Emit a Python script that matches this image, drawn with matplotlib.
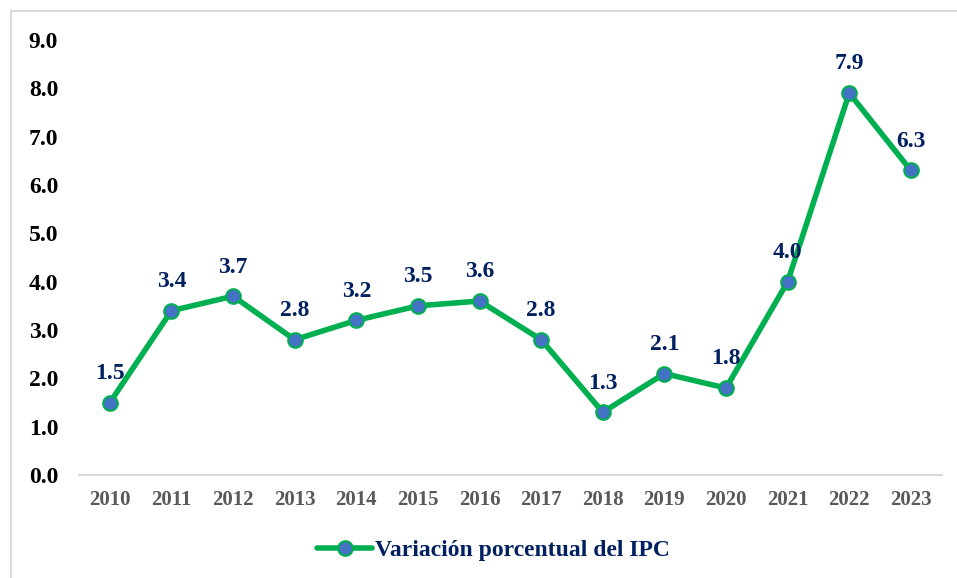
import matplotlib.pyplot as plt
from matplotlib.patches import Rectangle

years = ['2010', '2011', '2012', '2013', '2014', '2015', '2016',
         '2017', '2018', '2019', '2020', '2021', '2022', '2023']
ipc = [1.5, 3.4, 3.7, 2.8, 3.2, 3.5, 3.6, 2.8, 1.3, 2.1, 1.8, 4.0, 7.9, 6.3]
yticks = [0, 1, 2, 3, 4, 5, 6, 7, 8, 9]

plt.rcParams['font.family'] = ['Liberation Serif', 'DejaVu Serif']
plt.rcParams['font.weight'] = 'bold'

green = '#00B050'
blue = '#4472C4'
navy = '#002060'

fig = plt.figure(figsize=(9.57, 5.78), dpi=100)
ax = fig.add_axes([0.0826, 0.178, 0.9014, 0.753])

x = list(range(len(years)))
ax.plot(x, ipc, color=green, linewidth=4, marker='o', markersize=10.5,
        markerfacecolor=blue, markeredgecolor=green, markeredgewidth=1.5,
        label='Variación porcentual del IPC', solid_capstyle='round')

for xi, v in zip(x, ipc):
    ax.annotate(f'{v:.1f}', (xi, v), xytext=(0, 21), textcoords='offset points',
                ha='center', va='center', color=navy, fontsize=17,
                fontweight='bold')

ax.set_xlim(-0.5, len(years) - 0.5)
ax.set_ylim(0, 9)
ax.set_yticks(yticks)
ax.set_yticklabels([f'{t:.1f}' for t in yticks], fontsize=17,
                   fontweight='bold', color='black')
ax.set_xticks(x)
ax.set_xticklabels(years, fontsize=15, fontweight='bold', color='#595959')
ax.tick_params(axis='both', length=0)
ax.tick_params(axis='y', pad=15)
ax.tick_params(axis='x', pad=11)

for side in ['top', 'right', 'left']:
    ax.spines[side].set_visible(False)
ax.spines['bottom'].set_color('#D9D9D9')
ax.spines['bottom'].set_linewidth(1.5)

leg = fig.legend(loc='center', bbox_to_anchor=(0.516, 0.048), frameon=False,
                 prop={'size': 17, 'weight': 'bold'}, handlelength=2.3,
                 handletextpad=0.15)
for t in leg.get_texts():
    t.set_color(navy)

fig.patches.append(Rectangle((11 / 957, -0.01), 1.0, 1 - 11 / 578 + 0.01,
                             transform=fig.transFigure, fill=False,
                             edgecolor='#D9D9D9', linewidth=1.5))

fig.savefig('out.png', dpi=100)
